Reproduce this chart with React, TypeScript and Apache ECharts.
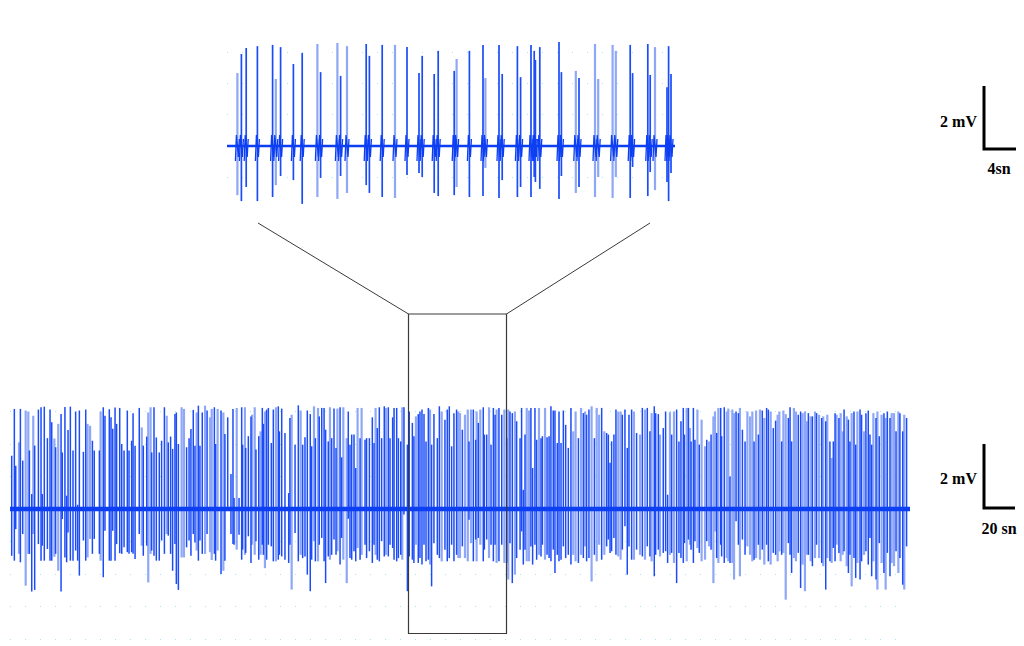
import React, { useEffect, useRef } from "react";
import * as echarts from "echarts";

// Each spike: [time (s), peak (mV), trough (mV), pale stroke flag]
const topSpikes: number[][] = [
  [1.3,2.33,-1.57,1],[1.8,2.94,-1.76,0],[2.4,3.13,-1.31,0],[3.8,3.19,-1.76,0],[5.7,3.23,-1.63,0],
  [6.1,2.14,-1.25,1],[6.7,3.16,-0.96,0],[8.3,2.62,-1.09,0],[9.4,2.97,-1.85,0],[11.3,3.26,-1.63,1],
  [11.7,2.36,-1.02,0],[13.8,3.29,-1.69,1],[14.2,2.24,-0.96,0],[15.0,3.19,-1.5,1],[17.4,3.26,-1.25,0],
  [17.8,2.88,-1.5,0],[19.4,3.23,-1.63,0],[21.0,3.23,-1.66,1],[22.5,3.16,-0.93,0],[24.0,2.33,-0.86,0],
  [24.4,2.88,-0.99,0],[25.9,2.3,-1.5,0],[26.4,3.04,-1.6,0],[28.4,2.4,-1.57,0],[28.7,2.78,-1.31,1],
  [30.3,3.04,-1.63,0],[32.0,3.23,-1.6,0],[32.3,2.17,-0.7,1],[34.0,3.23,-1.66,0],[34.4,2.3,-1.09,0],
  [36.3,3.19,-1.63,0],[36.7,2.2,-1.31,0],[38.0,3.23,-1.63,0],[38.4,3.04,-0.99,0],[38.55,2.75,-1.15,0],
  [39.1,3.16,-1.37,0],[41.5,3.32,-1.69,0],[41.8,2.36,-0.96,0],[43.6,2.4,-1.5,1],[44.0,2.17,-1.31,0],
  [46.0,3.26,-1.63,1],[46.4,2.14,-0.99,1],[48.2,3.23,-1.66,1],[48.6,3.04,-0.99,1],[50.4,3.23,-1.66,0],
  [50.7,2.33,-0.67,0],[52.6,3.26,-1.6,0],[52.9,2.27,-0.83,0],[53.5,3.16,-1.41,1],[55.0,1.88,-1.15,0],
  [55.2,3.19,-1.76,0],[55.5,2.3,-0.86,0],
];

const bottomSpikesA: number[][] = [
  [1.1,1.64,-1.44,0],[2.8,3.08,-1.59,0],[3.7,1.33,-0.62,0],[5.8,2.05,-1.38,1],[6.7,3.08,-1.64,0],
  [8.2,1.49,-0.77,0],[10.1,3.03,-2.36,1],[11.8,3.0,-1.38,1],[12.5,1.8,-1.38,0],[14.0,0.46,-2.54,0],
  [15.0,2.87,-0.77,1],[15.9,1.95,-2.49,0],[18.3,3.06,-1.08,0],[20.0,3.13,-1.59,0],[20.8,0.46,-1.13,0],
  [22.1,3.15,-1.59,0],[24.1,2.18,-1.23,0],[25.8,3.06,-1.59,0],[26.9,2.67,-1.59,0],[28.6,2.17,-1.47,1],
  [29.4,1.9,-1.38,0],[31.1,2.62,-1.9,1],[32.9,2.92,-2.54,0],[33.7,1.74,-0.31,0],[35.4,3.14,-1.49,0],
  [36.5,0.41,-1.64,0],[37.4,2.43,-0.72,0],[38.9,3.15,-1.59,0],[40.6,1.8,-1.59,0],[42.3,3.0,-1.28,0],
  [43.6,0.13,-1.59,0],[44.7,3.03,-2.05,0],[47.3,1.76,-0.97,0],[48.8,3.06,-1.59,0],[50.0,2.62,-1.49,1],
  [51.6,2.56,-0.92,1],[53.1,2.1,-1.38,0],[54.3,1.8,-0.92,0],[57.6,1.8,-1.38,0],[58.4,3.0,-1.59,1],
  [60.1,3.13,-2.1,0],[61.2,2.87,-0.67,0],[64.0,3.07,-1.59,0],[65.1,2.82,-1.59,0],[66.2,2.47,-0.67,0],
  [67.7,3.12,-1.59,0],[68.7,2.62,-1.08,0],[70.7,3.11,-1.36,0],[72.0,2.0,-1.38,0],[73.5,1.8,-1.18,0],
  [75.6,3.03,-1.33,0],[76.7,1.8,-1.38,0],[78.4,2.1,-1.33,0],[79.3,2.95,-1.38,0],[80.6,1.95,-1.54,0],
  [83.3,3.11,-0.77,0],[84.9,2.51,-1.13,1],[85.9,1.95,-1.44,0],[88.1,2.23,-1.13,0],[89.1,2.97,-2.26,1],
  [90.6,3.13,-1.38,1],[91.3,1.74,-1.28,0],[92.8,3.13,-1.44,0],[94.3,2.2,-1.59,0],[96.2,1.74,-1.59,0],
  [97.7,2.1,-0.97,0],[99.5,3.13,-1.38,0],[101.0,2.87,-0.77,1],[102.0,2.05,-0.82,0],[103.5,2.23,-1.38,0],
  [104.8,1.85,-1.9,0],[106.3,2.92,-1.08,0],[107.2,2.97,-2.31,0],[108.5,2.0,-2.49,0],[110.6,3.13,-1.49,1],
  [112.1,3.08,-1.49,1],[113.8,1.9,-1.18,0],[115.4,2.18,-0.97,0],[116.6,2.46,-1.44,0],[118.1,3.05,-0.77,0],
  [119.2,1.95,-1.03,0],[120.3,2.97,-1.28,1],[121.4,3.18,-1.59,0],[122.4,1.95,-0.97,0],[123.9,2.97,-1.38,0],
  [125.7,3.18,-1.38,1],[127.0,3.03,-0.77,0],[128.9,2.82,-1.33,1],[130.0,3.08,-1.57,1],[131.7,3.13,-1.38,0],
  [132.5,2.0,-1.59,0],[133.8,3.08,-1.28,1],[136.0,3.03,-2.0,0],[137.5,2.97,-1.9,1],[138.5,2.31,-1.59,0],
  [140.3,2.82,-0.05,0],[142.4,1.08,-0.77,0],[143.7,3.08,-1.08,0],
];

const bottomSpikesB: number[][] = [
  [144.4,0.34,-1.1,0],[146.1,3.11,-1.25,1],[147.6,0.34,-0.79,0],[149.3,3.13,-1.56,0],[149.9,1.98,-1.25,0],
  [151.4,3.13,-1.41,1],[151.9,1.88,-1.35,0],[153.6,2.24,-0.84,0],[155.3,2.85,-1.66,0],[156.0,2.9,-1.1,1],
  [157.7,3.13,-1.41,1],[158.5,1.83,-0.99,0],[160.3,2.24,-1.56,0],[161.5,2.39,-1.41,1],[162.6,3.11,-1.1,0],
  [163.3,2.62,-1.41,0],[164.3,3.0,-1.82,1],[165.4,3.06,-1.56,0],[166.5,3.11,-1.1,0],[168.4,2.03,-1.15,0],
  [169.7,3.06,-1.61,0],[171.4,3.13,-1.61,1],[172.9,3.16,-1.56,0],[173.6,2.39,-1.41,0],[175.1,3.09,-1.46,0],
  [177.2,2.34,-1.56,0],[179.6,0.49,-1.66,0],[180.4,2.8,-1.1,0],[181.5,2.9,-2.48,1],[183.7,1.98,-0.74,0],
  [185.8,3.19,-1.61,0],[187.3,3.03,-1.41,1],[188.6,1.98,-1.51,0],[190.1,2.21,-1.46,0],[191.6,3.03,-2.02,0],
  [193.5,2.92,-2.53,0],[194.4,1.93,-1.56,0],[195.9,3.16,-0.99,1],[196.8,2.18,-1.61,0],[198.5,3.11,-1.61,1],
  [199.3,2.85,-1.1,0],[200.9,3.11,-0.89,0],[202.4,3.11,-1.61,0],[203.4,2.44,-2.28,0],[205.1,2.08,-1.46,0],
  [206.2,3.13,-1.56,1],[207.3,2.18,-1.41,0],[208.8,3.09,-0.94,0],[210.1,1.88,-1.41,0],[211.0,3.09,-1.3,1],
  [212.7,3.13,-1.71,0],[213.7,1.59,-0.89,0],[214.8,3.13,-1.56,1],[217.0,2.18,-2.28,1],[218.0,3.0,-0.3,0],
  [219.1,1.98,-1.51,0],[220.2,2.29,-1.56,0],[221.7,2.29,-1.3,0],[222.8,1.26,-1.61,0],[224.0,3.11,-1.2,1],
  [225.6,2.18,-1.56,0],[226.6,3.11,-1.41,1],[228.8,2.13,-1.1,0],[229.8,2.18,-1.51,0],[231.6,2.18,-1.3,0],
  [233.5,2.82,-1.66,0],[234.6,2.03,-1.1,0],[235.6,3.11,-1.41,1],[236.7,2.49,-1.56,0],[238.0,3.13,-1.61,0],
  [239.5,2.18,-0.99,0],[241.2,3.16,-1.46,0],[242.3,3.11,-1.41,1],[243.8,3.13,-1.46,0],[244.9,2.18,-1.1,0],
  [246.6,2.82,-1.2,0],[247.5,3.11,-1.56,0],[249.2,3.11,-1.61,0],[250.3,2.18,-1.51,0],[251.8,2.08,-1.41,0],
  [252.8,3.13,-1.56,1],[253.9,3.13,-0.17,0],[256.1,1.98,-2.53,0],[257.3,3.0,-1.46,0],[259.3,2.65,-1.56,0],
  [260.3,2.24,-1.66,0],[261.6,2.85,-1.1,1],[263.1,2.92,-1.66,0],[264.2,3.0,-1.51,0],[265.5,3.06,-1.71,0],
  [266.8,2.92,-1.1,0],[268.1,2.08,-1.61,0],[269.6,3.11,-1.56,0],[270.7,3.06,-1.71,1],[271.7,1.98,-2.38,0],
  [273.2,2.92,-1.05,0],[275.4,2.18,-1.41,0],[276.7,3.16,-1.51,0],[278.2,3.0,-1.61,1],[280.3,2.75,-1.25,0],
  [281.8,3.06,-1.61,0],[283.1,3.16,-1.51,0],[284.6,1.93,-1.1,0],[286.1,2.95,-1.61,0],[287.8,3.06,-1.41,0],
  [288.9,3.0,-1.51,1],
];

const bottomSpikesC: number[][] = [
  [290.0,2.95,-1.51,1],[291.5,2.44,-1.15,0],[293.2,2.9,-1.51,1],[295.0,3.06,-1.61,1],[295.8,2.08,-0.33,0],
  [297.1,3.06,-1.05,1],[298.6,3.06,-1.61,0],[300.1,2.13,-0.94,0],[300.7,3.0,-1.61,1],[301.8,2.65,-0.89,0],
  [303.1,3.06,-1.1,1],[305.0,3.13,-1.61,0],[305.7,2.29,-1.25,0],[307.2,2.29,-0.94,0],[308.7,3.13,-1.51,1],
  [310.0,1.98,-1.1,0],[311.5,3.11,-1.61,0],[312.6,2.9,-1.1,0],[313.6,3.06,-1.66,1],[315.1,3.11,-1.61,0],
  [316.9,2.9,-1.1,0],[318.6,3.06,-1.66,1],[320.1,2.18,-1.66,0],[321.1,3.06,-2.17,1],[322.2,3.0,-1.05,0],
  [323.7,2.95,-2.28,0],[325.4,3.0,-2.02,1],[326.5,2.7,-1.51,0],[328.7,2.18,-1.25,0],[329.7,3.11,-0.69,0],
  [330.8,0.59,-1.71,0],[331.9,2.29,-1.25,0],[333.0,3.11,-1.61,1],[334.5,3.03,-1.61,1],[335.7,3.11,-1.15,0],
  [336.8,1.26,-1.71,0],[338.3,3.11,-1.1,0],[339.4,2.13,-1.56,0],[340.9,3.11,-1.41,1],[342.2,2.18,-1.46,0],
  [343.1,2.24,-1.1,0],[344.8,3.11,-1.56,1],[346.1,2.21,-1.41,0],[347.4,2.24,-1.51,0],[348.6,3.16,-1.61,0],
  [350.1,3.03,-1.25,0],[351.2,3.03,-1.97,0],[352.7,2.03,-1.41,0],[353.8,3.0,-1.61,0],[355.1,2.03,-1.56,0],
  [356.6,3.03,-1.15,0],[358.1,2.59,-1.51,0],[359.8,1.88,-1.41,0],[361.5,3.11,-1.71,0],[363.0,2.39,-1.41,1],
  [364.5,3.0,-1.61,1],[366.3,2.18,-1.66,0],[368.0,3.11,-1.41,1],[369.5,2.95,-1.51,0],[370.6,3.0,-1.15,1],
  [371.6,2.9,-1.61,0],[373.1,3.06,-1.51,0],[374.8,3.16,-2.23,1],[376.6,2.18,-1.41,0],[378.1,3.11,-1.61,1],
  [379.6,2.9,-1.1,1],[381.3,3.11,-1.56,0],[383.0,2.39,-1.41,1],[384.5,2.34,-1.15,0],[385.6,2.29,-0.94,0],
  [386.7,1.42,-1.35,0],[387.7,2.08,-1.3,0],[389.2,2.29,-0.89,0],[390.5,3.06,-1.41,0],[392.0,3.0,-1.46,1],
  [393.5,3.0,-1.56,1],[394.6,2.9,-1.25,0],[396.3,3.06,-0.53,0],[397.8,1.88,-2.02,0],[398.9,2.9,-1.15,0],
  [400.6,3.06,-1.56,0],[402.1,3.0,-1.56,1],[403.8,2.34,-1.25,0],[406.0,2.29,-1.41,1],[407.5,3.11,-1.46,0],
  [409.2,3.06,-1.56,1],[410.7,3.11,-1.15,0],[412.4,2.39,-1.46,0],[413.5,2.95,-1.61,1],[415.2,3.16,-2.07,0],
  [416.1,2.95,-1.41,0],[417.8,2.92,-1.25,0],[418.9,2.29,-1.46,1],[421.0,2.49,-1.35,0],[422.5,3.0,-1.3,0],
  [423.8,0.44,-1.66,0],[425.3,2.98,-1.41,1],[426.4,2.29,-1.35,0],[427.9,3.0,-1.66,1],[429.6,3.06,-2.28,0],
  [431.1,2.08,-1.35,0],[432.4,2.7,-1.51,0],[433.9,3.11,-1.66,0],
];

const bottomSpikesD: number[][] = [
  [434.6,2.29,-1.05,0],[436.1,3.11,-1.61,1],[437.2,3.11,-0.94,0],[438.2,2.49,-1.1,1],[438.9,2.08,-1.25,0],
  [440.4,3.11,-1.66,0],[441.4,2.13,-0.99,0],[443.0,3.06,-1.2,1],[444.2,1.98,-1.35,0],[445.7,2.75,-1.61,1],
  [447.9,1.93,-1.56,1],[449.0,2.13,-0.99,0],[450.5,2.08,-1.15,1],[451.8,2.29,-1.25,0],[453.3,2.85,-2.28,1],
  [454.3,3.0,-0.69,1],[455.4,2.34,-1.51,0],[456.5,3.11,-1.66,1],[458.0,3.11,-1.1,0],[458.6,2.24,-1.46,0],
  [460.3,3.13,-1.66,0],[461.9,3.0,-1.51,1],[462.9,3.09,-1.61,1],[464.0,1.0,-1.66,0],[465.5,3.06,-1.66,1],
  [466.6,2.95,-2.17,1],[467.9,3.0,-0.38,0],[469.4,2.95,-1.1,0],[470.4,3.11,-2.07,1],[472.0,2.44,-0.94,0],
  [473.7,2.08,-1.41,0],[475.2,3.0,-1.15,1],[476.9,2.85,-1.41,1],[478.4,3.0,-1.61,1],[479.5,2.08,-1.56,0],
  [480.8,3.03,-1.51,1],[482.3,2.29,-1.1,0],[483.3,3.06,-1.56,1],[484.8,3.03,-1.25,0],[486.1,2.8,-1.71,1],
  [487.6,3.11,-1.1,0],[488.7,3.06,-1.61,0],[490.2,3.0,-1.71,1],[491.9,2.49,-1.35,0],[493.4,2.72,-1.41,0],
  [494.7,2.9,-1.61,1],[495.8,3.0,-1.3,1],[497.3,2.08,-1.41,0],[498.4,3.03,-1.35,1],[499.9,2.92,-2.79,1],
  [501.6,2.8,-1.05,0],[502.7,3.13,-1.41,0],[503.7,2.08,-1.97,0],[505.2,3.11,-1.51,1],[506.5,3.0,-1.61,1],
  [508.0,2.9,-1.35,0],[509.5,3.0,-2.43,0],[510.8,2.95,-1.71,1],[512.3,3.0,-2.53,1],[513.4,2.7,-1.41,1],
  [514.5,2.95,-1.41,0],[516.0,2.85,-1.61,1],[517.1,2.85,-1.76,0],[518.8,3.0,-1.51,1],[519.8,2.95,-1.1,0],
  [521.4,2.9,-1.51,1],[523.1,2.8,-1.66,0],[524.1,2.85,-1.76,1],[525.7,2.7,-2.48,0],[526.7,2.9,-1.51,1],
  [528.4,2.08,-1.61,0],[529.5,1.57,-1.66,1],[530.6,2.08,-1.2,0],[531.7,2.95,-1.61,0],[532.7,2.9,-1.1,1],
  [534.2,2.8,-1.35,0],[535.3,2.95,-1.61,1],[536.6,2.39,-1.41,1],[537.5,3.06,-1.3,0],[539.2,2.85,-1.76,1],
  [540.3,2.75,-1.97,0],[541.3,2.08,-1.41,0],[542.4,2.95,-2.38,1],[543.9,3.0,-1.51,0],[545.0,1.98,-2.12,0],
  [546.1,3.0,-1.66,1],[547.8,3.06,-2.17,0],[548.8,2.9,-1.61,0],[550.4,2.39,-1.41,1],[551.6,2.95,-1.3,0],
  [553.1,3.03,-1.71,0],[554.2,2.29,-0.89,0],[555.3,1.98,-2.07,0],[556.4,2.95,-1.61,1],[558.1,2.8,-2.17,0],
  [559.0,3.0,-2.48,1],[560.2,2.24,-1.05,0],[561.7,2.9,-1.66,1],[563.2,2.95,-1.97,0],[564.3,2.8,-2.48,1],
  [565.4,3.0,-1.35,0],[567.1,2.8,-2.07,0],[568.2,2.95,-1.66,1],[569.7,2.95,-1.76,1],[571.0,2.39,-1.3,0],
  [572.5,3.0,-1.97,1],[573.5,2.95,-1.51,0],[575.3,2.39,-2.33,0],[576.3,2.9,-2.48,1],[577.8,2.8,-1.15,0],
];

const TOP_DURATION = 56; // s, expanded view
const BOTTOM_DURATION = 580; // s, full recording
const spikeletAmplitude = 0.35; // mV, small multi-unit activity around each spike in the expanded view
const scaleLabels = { topV: "2 mV", topT: "4sn", bottomV: "2 mV", bottomT: "20 sn" };

const DARK = "#1b4cf8";
const LIGHT = "#8ea7f6";
const BASE = "#0c3ef2";
const GRID_DOT = "#9fe9f6";

export default function App() {
  const ref = useRef<HTMLDivElement>(null);

  useEffect(() => {
    if (!ref.current) return;
    const chart = echarts.init(ref.current, null, { renderer: "svg" });
    const bottomSpikes = [...bottomSpikesA, ...bottomSpikesB, ...bottomSpikesC, ...bottomSpikesD];

    const spikeSeries = (data: number[][], idx: number, light: boolean, darkWidth: number) => ({
      type: "custom",
      xAxisIndex: idx,
      yAxisIndex: idx,
      silent: true,
      clip: false,
      z: light ? 2 : 3,
      data: data.filter((d) => d[3] === (light ? 1 : 0)),
      encode: { x: 0, y: [1, 2] },
      renderItem: (_params: any, api: any) => {
        const t = api.value(0);
        const a = api.coord([t, api.value(1)]);
        const b = api.coord([t, api.value(2)]);
        return {
          type: "line",
          shape: { x1: a[0], y1: a[1], x2: b[0], y2: b[1] },
          style: { stroke: light ? LIGHT : DARK, lineWidth: light ? 2.2 : darkWidth },
        };
      },
    });

    // thin multi-unit wiggle drawn beside each spike of the expanded view
    const spikeletSeries = {
      type: "custom",
      xAxisIndex: 0,
      yAxisIndex: 0,
      silent: true,
      clip: false,
      z: 4,
      data: topSpikes,
      encode: { x: 0, y: 1 },
      renderItem: (_params: any, api: any) => {
        const t = api.value(0);
        const a = api.coord([t, spikeletAmplitude]);
        const b = api.coord([t, -spikeletAmplitude]);
        return {
          type: "polyline",
          shape: { points: [[a[0] - 2, b[1] + 4], [a[0] - 1, a[1]], [a[0] + 1, b[1]], [a[0] + 2, a[1] + 4]] },
          style: { stroke: BASE, lineWidth: 1.3, fill: "none" },
        };
      },
    };

    const baseline = (idx: number, end: number, width: number) => ({
      type: "line",
      xAxisIndex: idx,
      yAxisIndex: idx,
      silent: true,
      z: 5,
      symbol: "none",
      data: [[0, 0], [end, 0]],
      lineStyle: { color: BASE, width },
    });

    const yAxisCommon = {
      type: "value",
      interval: 1,
      axisLine: { show: false },
      axisTick: { show: false },
      axisLabel: { show: false },
      splitLine: {
        show: true,
        showMinLine: true,
        showMaxLine: false,
        lineStyle: { color: GRID_DOT, width: 1, type: [1, 14] },
      },
    };

    const textStyle = {
      fill: "#000",
      font: "bold 16px 'Liberation Serif', 'Times New Roman', serif",
    };

    chart.setOption({
      animation: false,
      backgroundColor: "#ffffff",
      grid: [
        { left: 227, top: 36.45, width: 448, height: 172.15 },
        { left: 10, top: 395.25, width: 900, height: 243.75 },
      ],
      xAxis: [
        { type: "value", gridIndex: 0, min: 0, max: TOP_DURATION, show: false },
        { type: "value", gridIndex: 1, min: 0, max: BOTTOM_DURATION, show: false },
      ],
      yAxis: [
        { ...yAxisCommon, gridIndex: 0, min: -2, max: 3.5, splitLine: { ...yAxisCommon.splitLine, showMinLine: false } },
        { ...yAxisCommon, gridIndex: 1, min: -4, max: 3.5 },
      ],
      series: [
        spikeSeries(topSpikes, 0, true, 1.7),
        spikeSeries(topSpikes, 0, false, 1.7),
        spikeletSeries,
        baseline(0, TOP_DURATION, 2.6),
        spikeSeries(bottomSpikes, 1, true, 1.5),
        spikeSeries(bottomSpikes, 1, false, 1.5),
        baseline(1, BOTTOM_DURATION, 4.5),
      ],
      graphic: [
        { type: "line", silent: true, shape: { x1: 258, y1: 223, x2: 408.5, y2: 314 }, style: { stroke: "#3a3a3a", lineWidth: 1 } },
        { type: "line", silent: true, shape: { x1: 650, y1: 223, x2: 506.5, y2: 314 }, style: { stroke: "#3a3a3a", lineWidth: 1 } },
        { type: "rect", silent: true, z: 10, shape: { x: 408.5, y: 314, width: 98, height: 319.5 }, style: { fill: "none", stroke: "#3a3a3a", lineWidth: 1.2 } },
        { type: "polyline", silent: true, shape: { points: [[984, 86], [984, 149], [1016, 149]] }, style: { stroke: "#000", lineWidth: 3, fill: "none" } },
        { type: "polyline", silent: true, shape: { points: [[984, 444], [984, 508], [1015, 508]] }, style: { stroke: "#000", lineWidth: 3, fill: "none" } },
        { type: "text", silent: true, x: 977, y: 121, style: { ...textStyle, text: scaleLabels.topV, align: "right", verticalAlign: "middle" } },
        { type: "text", silent: true, x: 999, y: 168, style: { ...textStyle, text: scaleLabels.topT, align: "center", verticalAlign: "middle" } },
        { type: "text", silent: true, x: 977, y: 478, style: { ...textStyle, text: scaleLabels.bottomV, align: "right", verticalAlign: "middle" } },
        { type: "text", silent: true, x: 999, y: 528, style: { ...textStyle, text: scaleLabels.bottomT, align: "center", verticalAlign: "middle" } },
      ],
    });

    return () => chart.dispose();
  }, []);

  return (
    <div
      ref={ref}
      style={{ position: "fixed", left: 0, top: 0, width: 1024, height: 646, background: "#fff" }}
    />
  );
}
